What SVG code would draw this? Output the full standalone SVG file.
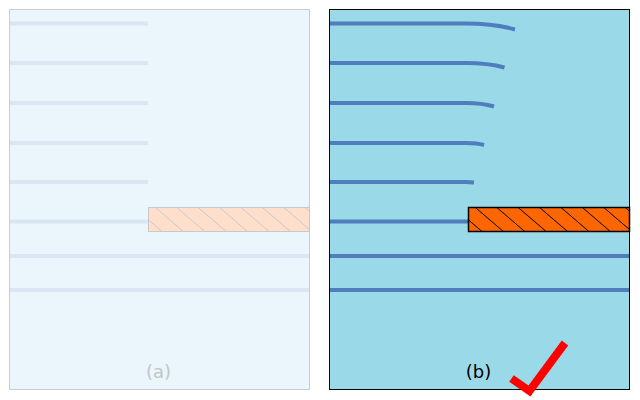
<svg xmlns="http://www.w3.org/2000/svg" width="640" height="400" viewBox="0 0 640 400">
<style>
.lineA{stroke:#DAE6F2;stroke-width:4;fill:none}
.lineB{stroke:#4F7DBE;stroke-width:4;fill:none}
.hatchA{stroke:#C9C9C9;stroke-width:1}
.hatchB{stroke:#000;stroke-width:1}
.lbl{font-family:"DejaVu Sans",sans-serif;font-size:18px;text-anchor:middle}
</style>
<defs>
<clipPath id="clipA"><rect x="148.5" y="207.5" width="161" height="24"/></clipPath>
<clipPath id="clipB"><rect x="468.5" y="207.5" width="161" height="24"/></clipPath>
</defs>
<rect width="640" height="400" fill="#FFFFFF"/>
<g id="panel-a">
<rect x="9.5" y="9.5" width="300" height="380" fill="#EAF6FB" stroke="#C8CDD0" stroke-width="1"/>
<g id="lines-a">
<path class="lineA" d="M10,23.5H148M10,63H148M10,103H148M10,143H148M10,182H148M10,221.5H148M10,256H309M10,290H309"/>
</g>
<g id="block-a">
<rect x="148.5" y="207.5" width="161" height="24" fill="#FDDFCB"/>
<g clip-path="url(#clipA)" class="hatchA">
<line x1="134" y1="207.5" x2="162" y2="231.5"/>
<line x1="155.4" y1="207.5" x2="183.4" y2="231.5"/>
<line x1="176.8" y1="207.5" x2="204.8" y2="231.5"/>
<line x1="198.2" y1="207.5" x2="226.2" y2="231.5"/>
<line x1="219.6" y1="207.5" x2="247.6" y2="231.5"/>
<line x1="241" y1="207.5" x2="269" y2="231.5"/>
<line x1="262.4" y1="207.5" x2="290.4" y2="231.5"/>
<line x1="283.8" y1="207.5" x2="311.8" y2="231.5"/>
<line x1="305.2" y1="207.5" x2="333.2" y2="231.5"/>
</g>
<rect x="148.5" y="207.5" width="161" height="24" fill="none" stroke="#C8C8C8" stroke-width="1"/>
</g>
<text class="lbl" x="158.5" y="378" fill="#C4C4C4">(a)</text>
</g>
<g id="panel-b">
<rect x="329.5" y="9.5" width="300" height="380" fill="#9AD9E7" stroke="#000" stroke-width="1"/>
<g id="lines-b">
<path class="lineB" d="M330,23.5H466Q494,23.5 515,29.5"/>
<path class="lineB" d="M330,63H466Q488,63 504.5,67.5"/>
<path class="lineB" d="M330,103H466Q482,103 494,106.5"/>
<path class="lineB" d="M330,143H466Q477,143 484,145"/>
<path class="lineB" d="M330,182H466Q470,182 474,182.5"/>
<path class="lineB" d="M330,221.5H468M330,256H629M330,290H629"/>
</g>
<g id="block-b">
<rect x="468.5" y="207.5" width="161" height="24" fill="#FF6600"/>
<g clip-path="url(#clipB)" class="hatchB">
<line x1="454" y1="207.5" x2="482" y2="231.5"/>
<line x1="475.4" y1="207.5" x2="503.4" y2="231.5"/>
<line x1="496.8" y1="207.5" x2="524.8" y2="231.5"/>
<line x1="518.2" y1="207.5" x2="546.2" y2="231.5"/>
<line x1="539.6" y1="207.5" x2="567.6" y2="231.5"/>
<line x1="561" y1="207.5" x2="589" y2="231.5"/>
<line x1="582.4" y1="207.5" x2="610.4" y2="231.5"/>
<line x1="603.8" y1="207.5" x2="631.8" y2="231.5"/>
<line x1="625.2" y1="207.5" x2="653.2" y2="231.5"/>
</g>
<rect x="468.5" y="207.5" width="161" height="24" fill="none" stroke="#000" stroke-width="1.5"/>
</g>
<text class="lbl" x="478.5" y="378" fill="#000">(b)</text>
</g>
<g id="check">
<path d="M511.5,378.5L529.5,391L565,343" fill="none" stroke="#FF0000" stroke-width="8"/>
</g>
</svg>
